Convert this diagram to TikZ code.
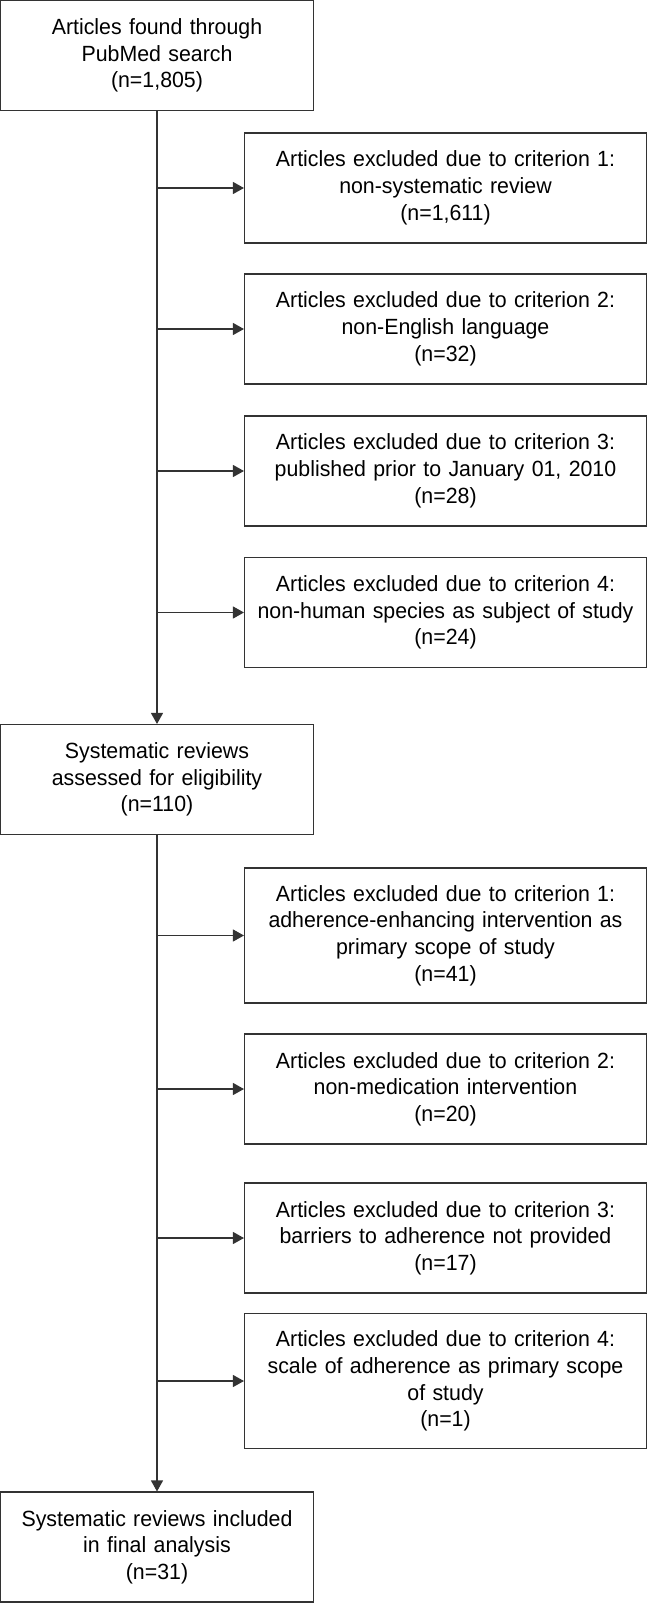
\documentclass[tikz,border=0pt]{standalone}
\usepackage{fontspec}
\setmainfont{Liberation Sans}[FakeStretch=0.97]
\usetikzlibrary{arrows.meta}

\begin{document}
\begin{tikzpicture}[x=1pt, y=-1pt,
	box/.style={draw=black!80, line width=1.1pt, inner sep=0pt, align=center,
		font=\fontsize{22}{26.7}\selectfont},
	leftbox/.style={box, minimum width=312.8, minimum height=110, text width=310},
	sidebox/.style={box, minimum width=402, minimum height=110, text width=400},
	flow/.style={draw=black!80, line width=1.1pt, -{Triangle[length=11pt, width=12pt]}}]
	\useasboundingbox (0, 0) rectangle (648, 1603);

	\node[leftbox] (search) at (157, 55.5) {Articles found through\\PubMed search\\(n=1,805)};
	\node[sidebox] (excl1) at (445.5, 188) {Articles excluded due to criterion 1:\\non-systematic review\\(n=1,611)};
	\node[sidebox] (excl2) at (445.5, 329) {Articles excluded due to criterion 2:\\non-English language\\(n=32)};
	\node[sidebox] (excl3) at (445.5, 471) {Articles excluded due to criterion 3:\\published prior to January 01, 2010\\(n=28)};
	\node[sidebox] (excl4) at (445.5, 612.5) {Articles excluded due to criterion 4:\\non-human species as subject of study\\(n=24)};
	\node[leftbox] (assessed) at (157, 779.5) {Systematic reviews\\assessed for eligibility\\(n=110)};
	\node[sidebox, minimum height=135] (elig1) at (445.5, 935.5) {Articles excluded due to criterion 1:\\adherence-enhancing intervention as\\primary scope of study\\(n=41)};
	\node[sidebox] (elig2) at (445.5, 1089) {Articles excluded due to criterion 2:\\non-medication intervention\\(n=20)};
	\node[sidebox] (elig3) at (445.5, 1238) {Articles excluded due to criterion 3:\\barriers to adherence not provided\\(n=17)};
	\node[sidebox, minimum height=135] (elig4) at (445.5, 1381) {Articles excluded due to criterion 4:\\scale of adherence as primary scope\\of study\\(n=1)};
	\node[leftbox] (final) at (157, 1547) {Systematic reviews included\\in final analysis\\(n=31)};

	\draw[flow] (search) -- (assessed);
	\draw[flow] (assessed) -- (final);

	\foreach \b in {excl1, excl2, excl3, excl4}
		\draw[flow] (search.south |- \b.west) -- (\b);
	\foreach \b in {elig1, elig2, elig3, elig4}
		\draw[flow] (assessed.south |- \b.west) -- (\b);

\end{tikzpicture}
\end{document}
